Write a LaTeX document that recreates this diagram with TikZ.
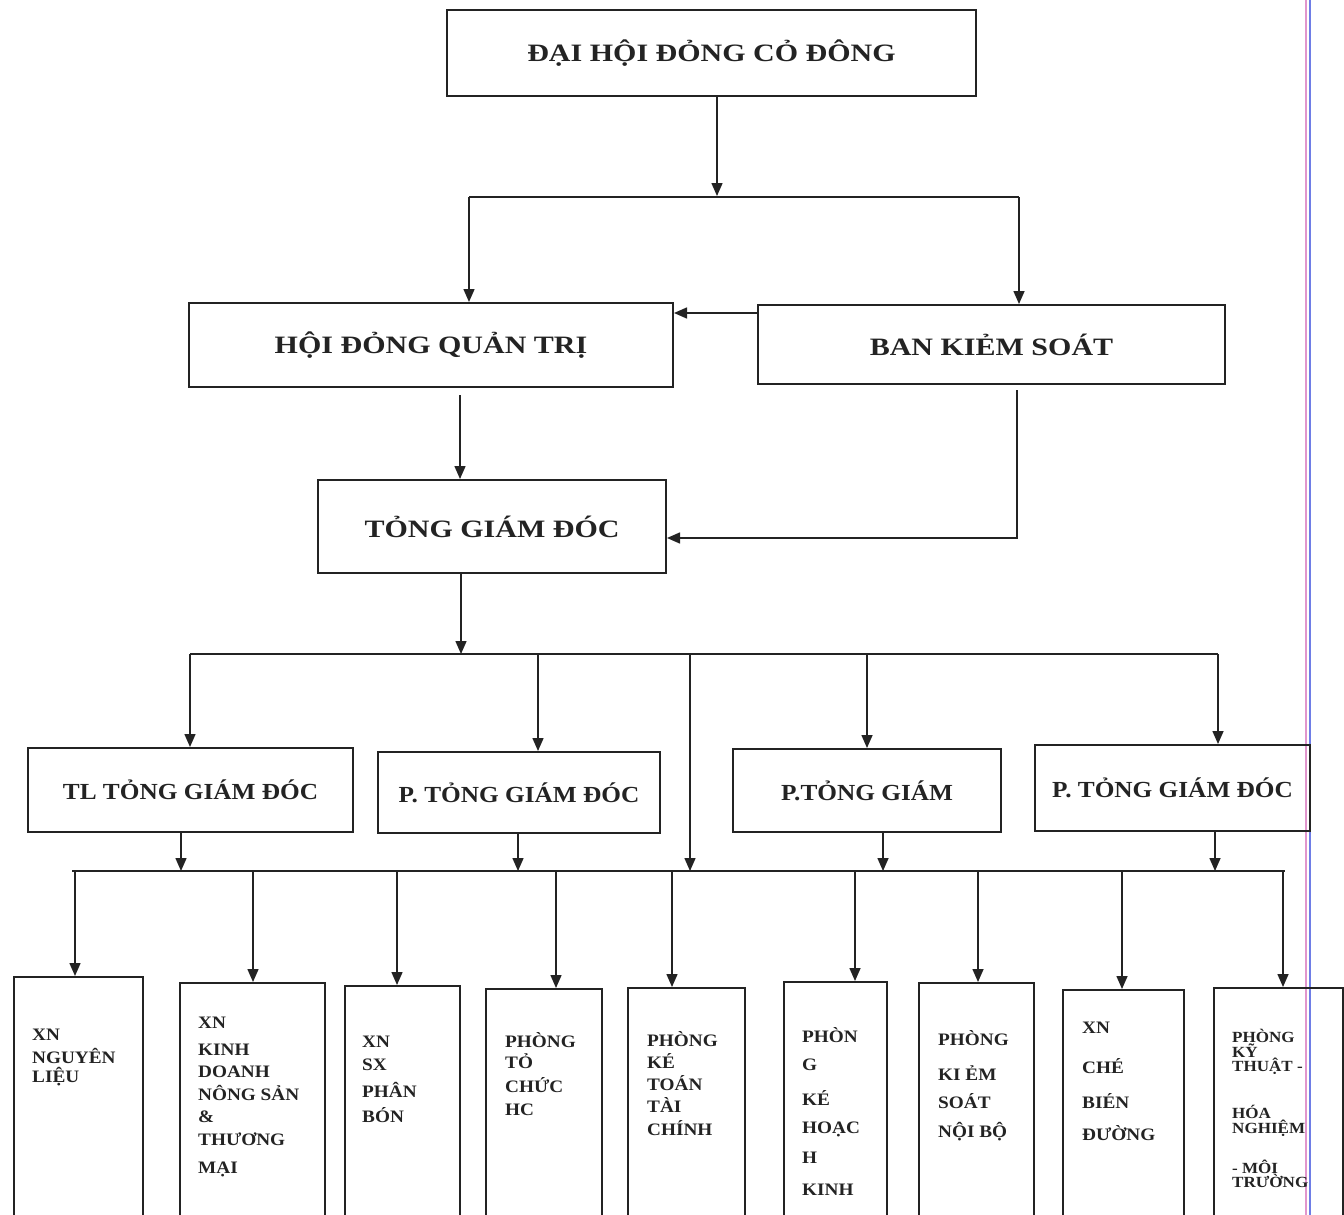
\documentclass[tikz,border=0pt]{standalone}
\usepackage{fontspec}
\newfontfamily\vn{Liberation Serif}[FakeStretch=1.2]
\newfontfamily\vnm{Liberation Serif}[FakeStretch=1.1]
\usetikzlibrary{arrows.meta}
\definecolor{ink}{RGB}{35,35,35}
\definecolor{pinkline}{RGB}{225,150,205}
\definecolor{blueline}{RGB}{110,125,230}
\begin{document}
\begin{tikzpicture}[x=1pt,y=-1pt,
 box/.style={draw=ink, line width=2pt, rectangle, inner sep=0pt, text=ink, font=\vn\bfseries\fontsize{25}{25}\selectfont},
 mid/.style={box, font=\vnm\bfseries\fontsize{23}{23}\selectfont},
 low/.style={draw=ink, line width=2pt, rectangle, inner sep=0pt, anchor=north west, minimum height=300pt},
 btxt/.style={anchor=base west, inner sep=0pt, text=ink, font=\vnm\bfseries\fontsize{17.5}{17.5}\selectfont},
 stxt/.style={btxt, font=\vnm\bfseries\fontsize{15.5}{15.5}\selectfont},
 arr/.style={draw=ink, line width=1.5pt, -{Triangle[length=13pt,width=11pt]}},
 ln/.style={draw=ink, line width=1.8pt}]
\useasboundingbox (0,0) rectangle (1344,1215);
\fill[white] (0,0) rectangle (1344,1215);
\clip (0,0) rectangle (1344,1215);

% margin lines of the scanned page
\draw[pinkline, line width=2pt] (1306,0) -- (1306,1215);
\draw[blueline, line width=1.2pt] (1310,0) -- (1310,1215);

% top levels
\node[box, minimum width=529pt, minimum height=86pt] (dh) at (711.5,53) {ĐẠI HỘI ĐỎNG CỎ ĐÔNG};
\node[box, minimum width=484pt, minimum height=84pt] (hd) at (431,345) {HỘI ĐỎNG QUẢN TRỊ};
\node[box, minimum width=467pt, minimum height=79pt] (bks) at (991.5,344.5) {BAN KIẺM SOÁT};
\node[box, minimum width=348pt, minimum height=93pt] (tgd) at (492,526.5) {TỎNG GIÁM ĐÓC};

% third level
\node[mid, minimum width=325pt, minimum height=84pt] (tl) at (190.5,790) {TL TỎNG GIÁM ĐÓC};
\node[mid, minimum width=282pt, minimum height=81pt] (pg1) at (519,792.5) {P. TỎNG GIÁM ĐÓC};
\node[mid, minimum width=268pt, minimum height=83pt] (pg2) at (867,790.5) {P.TỎNG GIÁM};
\node[mid, minimum width=275pt, minimum height=86pt] (pg3) at (1172.5,788) {P. TỎNG GIÁM ĐÓC};

% bottom boxes
\node[low, minimum width=129pt] (x1) at (13,976) {};
\node[low, minimum width=145pt] (x2) at (179,982) {};
\node[low, minimum width=115pt] (x3) at (344,985) {};
\node[low, minimum width=116pt] (x4) at (485,988) {};
\node[low, minimum width=117pt] (x5) at (627,987) {};
\node[low, minimum width=103pt] (x6) at (783,981) {};
\node[low, minimum width=115pt] (x7) at (918,982) {};
\node[low, minimum width=121pt] (x8) at (1062,989) {};
\node[low, minimum width=129pt] (x9) at (1213,987) {};

% bottom texts
\foreach \t/\yy [count=\i] in {XN/1040, NGUYÊN/1063, LIỆU/1082}
  \node[btxt] (a1-\i) at (32,\yy) {\t};
\foreach \t/\yy [count=\i] in {XN/1028, KINH/1055, DOANH/1077, NÔNG SẢN/1100, \&/1122, THƯƠNG/1145, MẠI/1173}
  \node[btxt] (a2-\i) at (198,\yy) {\t};
\foreach \t/\yy [count=\i] in {XN/1047, SX/1070, PHÂN/1097, BÓN/1122}
  \node[btxt] (a3-\i) at (362,\yy) {\t};
\foreach \t/\yy [count=\i] in {PHÒNG/1047, TỎ/1068, CHỨC/1092, HC/1115}
  \node[btxt] (a4-\i) at (505,\yy) {\t};
\foreach \t/\yy [count=\i] in {PHÒNG/1046, KÉ/1068, TOÁN/1090, TÀI/1112, CHÍNH/1135}
  \node[btxt] (a5-\i) at (647,\yy) {\t};
\foreach \t/\yy [count=\i] in {PHÒN/1042, G/1070, KÉ/1105, HOẠC/1133, H/1163, KINH/1195}
  \node[btxt] (a6-\i) at (802,\yy) {\t};
\foreach \t/\yy [count=\i] in {PHÒNG/1045, KI ẺM/1080, SOÁT/1108, NỘI BỘ/1137}
  \node[btxt] (a7-\i) at (938,\yy) {\t};
\foreach \t/\yy [count=\i] in {XN/1033, CHÉ/1073, BIÉN/1108, ĐƯỜNG/1140}
  \node[btxt] (a8-\i) at (1082,\yy) {\t};
\foreach \t/\yy [count=\i] in {PHÒNG/1042, KỸ/1057, THUẬT -/1071, HÓA/1118, NGHIỆM/1133, - MÔI/1173, TRƯỜNG/1187}
  \node[stxt] (a9-\i) at (1232,\yy) {\t};

% coordinates of junctions
\coordinate (j0) at (717,196);
\coordinate (jl) at (469,197);
\coordinate (jr) at (1019,197);
\coordinate (k) at (0,313);
\coordinate (m1) at (460,395);
\coordinate (m2) at (1017,390);
\coordinate (m3) at (0,538);
\coordinate (b0) at (461,654);
\coordinate (t1) at (190,654);
\coordinate (t2) at (538,654);
\coordinate (t3) at (690,654);
\coordinate (t4) at (867,654);
\coordinate (t5) at (1218,654);
\coordinate (busL) at (72,871);
\coordinate (busR) at (1285,871);
\coordinate (u1) at (181,871);
\coordinate (u2) at (518,871);
\coordinate (u3) at (883,871);
\coordinate (u4) at (1215,871);
\coordinate (d1) at (75,871);
\coordinate (d2) at (253,871);
\coordinate (d3) at (397,871);
\coordinate (d4) at (556,871);
\coordinate (d5) at (672,871);
\coordinate (d6) at (855,871);
\coordinate (d7) at (978,871);
\coordinate (d8) at (1122,871);
\coordinate (d9) at (1283,871);

% connectors top
\draw[arr] (j0 |- dh.south) -- (j0);
\draw[ln] (jl) -- (jr);
\draw[arr] (jl) -- (jl |- hd.north);
\draw[arr] (jr) -- (jr |- bks.north);
\draw[arr] (bks.west |- k) -- (hd.east |- k);
\draw[arr] (m1) -- (m1 |- tgd.north);
\draw[arr] (m2) |- (tgd.east |- m3);

% general director to level 3
\draw[arr] (b0 |- tgd.south) -- (b0);
\draw[ln] (t1) -- (t5);
\draw[arr] (t1) -- (t1 |- tl.north);
\draw[arr] (t2) -- (t2 |- pg1.north);
\draw[arr] (t3) -- (t3 |- busL);
\draw[arr] (t4) -- (t4 |- pg2.north);
\draw[arr] (t5) -- (t5 |- pg3.north);

% level 3 to lower bus
\draw[arr] (u1 |- tl.south) -- (u1);
\draw[arr] (u2 |- pg1.south) -- (u2);
\draw[arr] (u3 |- pg2.south) -- (u3);
\draw[arr] (u4 |- pg3.south) -- (u4);
\draw[ln] (busL) -- (busR);

% lower bus to units
\draw[arr] (d1) -- (d1 |- x1.north);
\draw[arr] (d2) -- (d2 |- x2.north);
\draw[arr] (d3) -- (d3 |- x3.north);
\draw[arr] (d4) -- (d4 |- x4.north);
\draw[arr] (d5) -- (d5 |- x5.north);
\draw[arr] (d6) -- (d6 |- x6.north);
\draw[arr] (d7) -- (d7 |- x7.north);
\draw[arr] (d8) -- (d8 |- x8.north);
\draw[arr] (d9) -- (d9 |- x9.north);
\end{tikzpicture}
\end{document}
